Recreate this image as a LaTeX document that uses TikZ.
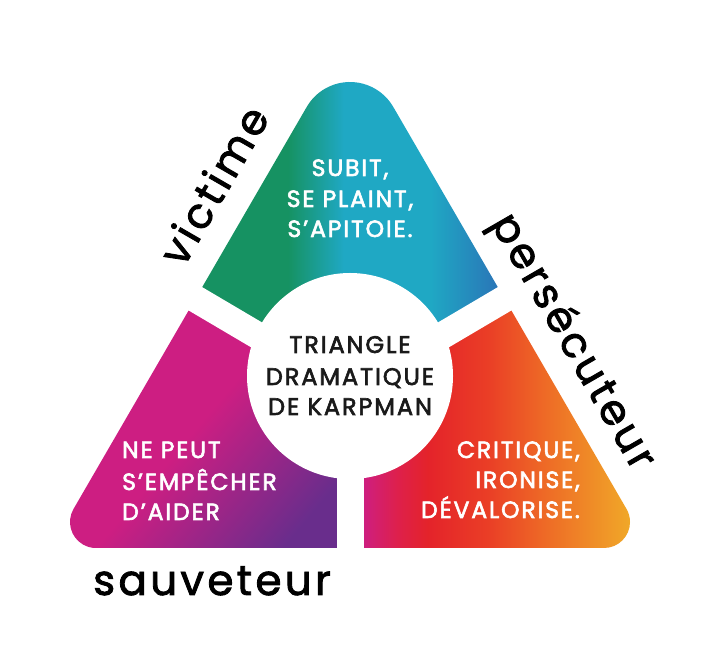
\documentclass[tikz,border=0pt]{standalone}
\usepackage{fontspec}
\setmainfont{Poppins}
\newfontfamily\capsf[LetterSpace=8,FakeBold=2.5]{Poppins}
\newfontfamily\labelf[LetterSpace=8,FakeBold=2]{Poppins}
\usetikzlibrary{calc}
\definecolor{tgreen}{RGB}{22,146,98}
\definecolor{tteal}{RGB}{31,168,196}
\definecolor{tblue}{RGB}{43,112,182}
\definecolor{smag}{RGB}{205,30,130}
\definecolor{spur}{RGB}{105,45,140}
\definecolor{pmag}{RGB}{205,30,130}
\definecolor{pmr}{RGB}{222,32,75}
\definecolor{pred}{RGB}{228,35,42}
\definecolor{pro}{RGB}{234,62,38}
\definecolor{porg}{RGB}{238,108,38}
\definecolor{pamb}{RGB}{240,160,40}
\definecolor{pyel}{RGB}{241,182,40}
\definecolor{ink}{RGB}{26,26,26}
\pgfdeclarehorizontalshading{topsh}{100bp}{color(0bp)=(tgreen); color(40bp)=(tgreen); color(49bp)=(tteal); color(63bp)=(tteal); color(75bp)=(tblue); color(100bp)=(tblue)}
\pgfdeclarehorizontalshading{savsh}{100bp}{color(0bp)=(smag); color(50bp)=(smag); color(76bp)=(spur); color(100bp)=(spur)}
\pgfdeclarehorizontalshading{persh}{100bp}{color(0bp)=(pmag); color(27bp)=(pmag); color(33bp)=(pmr); color(38bp)=(pred); color(48bp)=(pro); color(58bp)=(porg); color(70bp)=(pamb); color(75bp)=(pyel); color(100bp)=(pyel)}
\begin{document}
\begin{tikzpicture}[x=1pt,y=1pt,
  gap/.style={draw=white,line width=27pt},
  lab/.style={font=\labelf\fontsize{42}{48}\selectfont,text=black,inner sep=0pt},
  capw/.style={font=\capsf\fontsize{23.5}{28}\selectfont,text=white,inner sep=0pt},
  capk/.style={font=\capsf\fontsize{24}{28}\selectfont,text=ink,inner sep=0pt}]
\useasboundingbox[fill=white] (0,0) rectangle (727,668);
\begin{scope}
  \clip (96,120) -- (604,120) arc[start angle=270,end angle=390,radius=26] -- (393.3,561) arc[start angle=30,end angle=150,radius=50] -- (73.5,159) arc[start angle=150,end angle=270,radius=26] -- cycle;
  \begin{scope}
    \clip (350,278) -- (41,460) -- (41,668) -- (659,668) -- (659,460) -- cycle;
    \shade[shading=topsh] (195,280) rectangle (505,640);
  \end{scope}
  \begin{scope}
    \clip (350,278) -- (41,460) -- (0,460) -- (0,0) -- (350,0) -- cycle;
    \shade[shading=savsh,shading angle=-40] (51,120) rectangle (350,370);
  \end{scope}
  \begin{scope}
    \clip (350,278) -- (350,0) -- (727,0) -- (727,460) -- (659,460) -- cycle;
    \shade[shading=persh] (350,120) rectangle (649,370);
  \end{scope}
\end{scope}
\coordinate (O) at (350,278);
\coordinate (gl) at (172,383);
\coordinate (gr) at (528,383);
\coordinate (gb) at (350,100);
\draw[gap] (O) -- (gl);
\draw[gap] (O) -- (gr);
\draw[gap] (O) -- (gb);
\node[circle,fill=white,minimum size=206pt,inner sep=0pt] (hub) at (350,292) {};
% top
\node[capw,anchor=base] (v1) at (350,492) {SUBIT,};
\node[capw,anchor=base] (v2) at (350,461) {SE PLAINT,};
\node[capw,anchor=base] (v3) at (350,431) {S’APITOIE.};
% centre
\node[capk,anchor=base] (c1) at (350,315) {TRIANGLE};
\node[capk,anchor=base] (c2) at (350,283) {DRAMATIQUE};
\node[capk,anchor=base] (c3) at (350,253) {DE KARPMAN};
% left
\node[capw,anchor=base west] (s1) at (122,210) {NE PEUT};
\node[capw,anchor=base west] (s2) at (122,178) {S’EMPÊCHER};
\node[capw,anchor=base west] (s3) at (122,148) {D’AIDER};
% right
\node[capw,anchor=base east] (p1) at (580,210) {CRITIQUE,};
\node[capw,anchor=base east] (p2) at (580,180) {IRONISE,};
\node[capw,anchor=base east] (p3) at (580,150) {DÉVALORISE.};
% labels
\node[lab,anchor=base] (sav) at (212,73) {sauveteur};
\node[lab,anchor=base,rotate=60] (vic) at (227,475) {victime};
\node[lab,anchor=base,rotate=-60] (per) at (562,320) {persécuteur};
\end{tikzpicture}
\end{document}
